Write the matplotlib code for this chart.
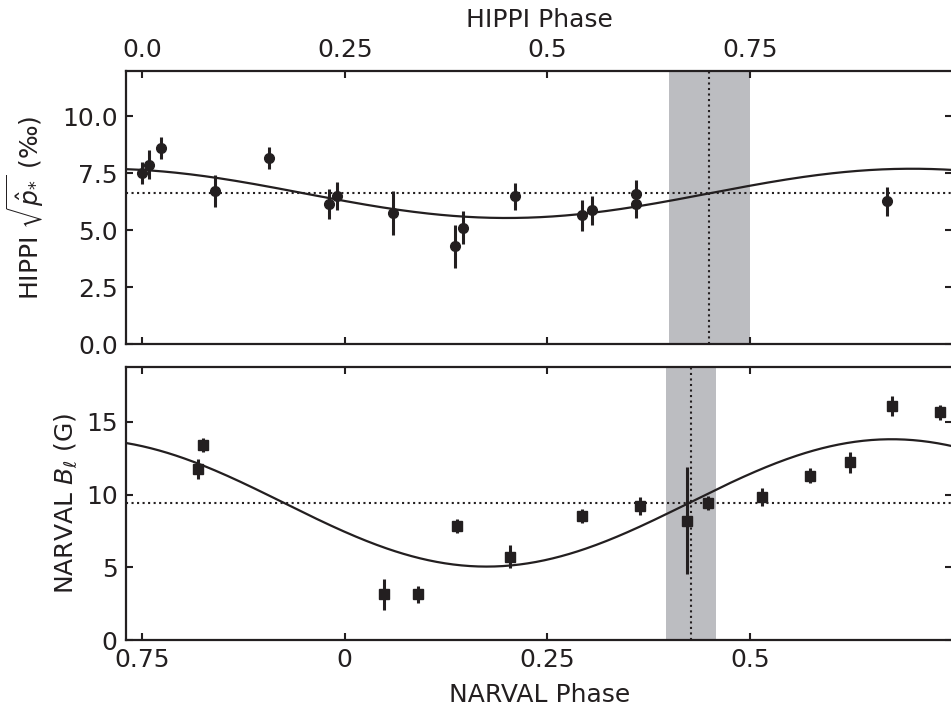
import numpy as np
import matplotlib
matplotlib.use('Agg')
import matplotlib.pyplot as plt

plt.rcParams['font.family'] = 'DejaVu Sans'
plt.rcParams['mathtext.fontset'] = 'dejavusans'
plt.rcParams['font.size'] = 18

ink = '#231f20'
shade = '#bcbdc1'

# HIPPI polarisation data
hippi_phase = [0.000, 0.009, 0.023, 0.090, 0.157, 0.231, 0.241, 0.309, 0.386, 0.396,
               0.460, 0.543, 0.555, 0.609, 0.609, 0.919]
hippi_p = [7.51, 7.88, 8.62, 6.72, 8.17, 6.15, 6.52, 5.76, 4.29, 5.12,
           6.49, 5.65, 5.87, 6.59, 6.15, 6.27]
hippi_err = [0.47, 0.65, 0.48, 0.69, 0.50, 0.67, 0.62, 0.95, 0.94, 0.71,
             0.58, 0.67, 0.62, 0.60, 0.60, 0.64]
# sinusoid fit: mean, amplitude, phase of maximum
hippi_fit = (6.62, 1.08, 0.95)
hippi_band = (0.65, 0.75)
hippi_line = 0.70

# NARVAL longitudinal field data (phase unwrapped past 1)
narval_phase = [0.819, 0.825, 1.048, 1.091, 1.139, 1.204, 1.293, 1.365, 1.4225,
                1.449, 1.515, 1.574, 1.624, 1.675, 1.735]
narval_b = [11.75, 13.42, 3.14, 3.14, 7.85, 5.73, 8.53, 9.22, 8.21,
            9.41, 9.86, 11.31, 12.23, 16.10, 15.65]
narval_err = [0.69, 0.48, 1.08, 0.60, 0.48, 0.80, 0.48, 0.63, 3.70,
              0.48, 0.62, 0.52, 0.72, 0.71, 0.50]
narval_fit = (9.43, 4.38, 0.675)
narval_band = (1.397, 1.458)
narval_line = 1.4275

top_ticks = [0.0, 0.25, 0.5, 0.75]
top_labels = ['0.0', '0.25', '0.5', '0.75']
bot_ticks = [0.75, 1.0, 1.25, 1.5]
bot_labels = ['0.75', '0', '0.25', '0.5']

fig = plt.figure(figsize=(9.51, 7.07), dpi=100)
left = 126 / 951
width = 1.0014 - left
ax1 = fig.add_axes([left, 1 - 344.3 / 707, width, (344.3 - 70.7) / 707])
ax2 = fig.add_axes([left, 1 - 640 / 707, width, (640 - 366.7) / 707])


def style(ax):
    ax.tick_params(direction='in', which='both', top=True, right=True,
                   length=5, width=1.5, colors=ink, labelcolor=ink, pad=6)
    for s in ax.spines.values():
        s.set_linewidth(1.6)
        s.set_color(ink)


# top panel
xlo, xhi = -0.02, 1.0
ax1.axvspan(*hippi_band, color=shade, lw=0, zorder=0)
ax1.axvline(hippi_line, color=ink, ls=':', lw=1.5, zorder=1)
ax1.axhline(hippi_fit[0], color=ink, ls=':', lw=1.5, zorder=1)
xx = np.linspace(xlo, xhi, 400)
m, a, p0 = hippi_fit
ax1.plot(xx, m + a * np.cos(2 * np.pi * (xx - p0)), color=ink, lw=1.6, zorder=2)
ax1.errorbar(hippi_phase, hippi_p, yerr=hippi_err, fmt='o', color=ink, ms=7,
             elinewidth=2.2, capsize=0, zorder=3)
ax1.set_xlim(xlo, xhi)
ax1.set_ylim(0, 12)
ax1.set_yticks([0, 2.5, 5, 7.5, 10])
ax1.set_yticklabels(['0.0', '2.5', '5.0', '7.5', '10.0'])
ax1.set_xticks(top_ticks)
ax1.set_xticklabels(top_labels)
ax1.xaxis.tick_top()
ax1.xaxis.set_label_position('top')
style(ax1)
ax1.tick_params(labelbottom=False, labeltop=True, bottom=True)
ax1.set_xlabel('HIPPI Phase', color=ink, labelpad=8)
ax1.set_ylabel(r'HIPPI $\sqrt{\hat{p}_{*}}$ (‰)', color=ink, labelpad=12)

# bottom panel
xlo2, xhi2 = 0.73, 1.75
ax2.axvspan(*narval_band, color=shade, lw=0, zorder=0)
ax2.axvline(narval_line, color=ink, ls=':', lw=1.5, zorder=1)
ax2.axhline(narval_fit[0], color=ink, ls=':', lw=1.5, zorder=1)
xx2 = np.linspace(xlo2, xhi2, 400)
m, a, p0 = narval_fit
ax2.plot(xx2, m + a * np.cos(2 * np.pi * (xx2 - p0)), color=ink, lw=1.6, zorder=2)
ax2.errorbar(narval_phase, narval_b, yerr=narval_err, fmt='s', color=ink, ms=7,
             elinewidth=2.2, capsize=0, zorder=3)
ax2.set_xlim(xlo2, xhi2)
ax2.set_ylim(0, 18.8)
ax2.set_yticks([0, 5, 10, 15])
ax2.set_xticks(bot_ticks)
ax2.set_xticklabels(bot_labels)
style(ax2)
ax2.set_xlabel('NARVAL Phase', color=ink, labelpad=8)
ax2.set_ylabel(r'NARVAL $B_\ell$ (G)', color=ink, labelpad=5)

fig.savefig('out.png', dpi=100)
